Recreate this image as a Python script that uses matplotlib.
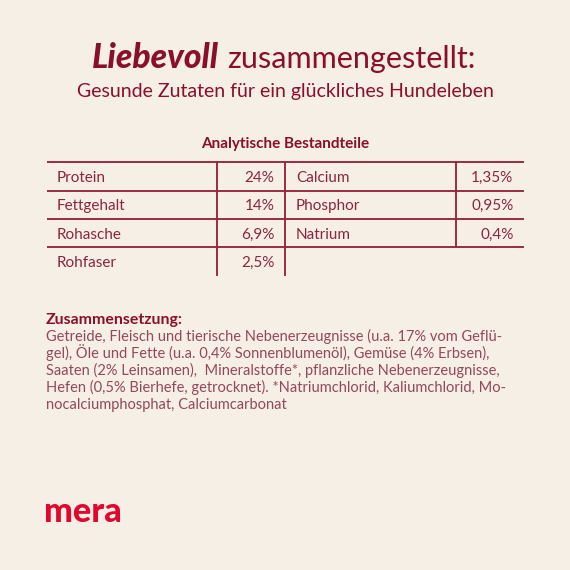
import matplotlib
matplotlib.use("Agg")
import matplotlib.pyplot as plt

# ── Content ───────────────────────────────────────────────────────────────

title_bold = "Liebevoll"
title_rest = "zusammengestellt:"
subtitle = "Gesunde Zutaten für ein glückliches Hundeleben"
table_title = "Analytische Bestandteile"

left_names = ["Protein", "Fettgehalt", "Rohasche", "Rohfaser"]
left_values = ["24%", "14%", "6,9%", "2,5%"]
right_names = ["Calcium", "Phosphor", "Natrium"]
right_values = ["1,35%", "0,95%", "0,4%"]

body_head = "Zusammensetzung:"
body_lines = [
    "Getreide, Fleisch und tierische Nebenerzeugnisse (u.a. 17% vom Geflü-",
    "gel), Öle und Fette (u.a. 0,4% Sonnenblumenöl), Gemüse (4% Erbsen),",
    "Saaten (2% Leinsamen),  Mineralstoffe*, pflanzliche Nebenerzeugnisse,",
    "Hefen (0,5% Bierhefe, getrocknet). *Natriumchlorid, Kaliumchlorid, Mo-",
    "nocalciumphosphat, Calciumcarbonat",
]
logo = "mera"

# ── Style ─────────────────────────────────────────────────────────────────

BG = "#f6efe6"
DARK = "#8a0f2d"
TEXT = "#8c2440"
BODY = "#94485c"
LINE = "#93253f"
RED = "#e2062f"

plt.rcParams["font.family"] = ["Lato", "DejaVu Sans"]

fig = plt.figure(figsize=(5.7, 5.7), dpi=100, facecolor=BG)
ax = fig.add_axes([0, 0, 1, 1])
ax.set_xlim(0, 570)
ax.set_ylim(570, 0)
ax.axis("off")

# ── Title ─────────────────────────────────────────────────────────────────

ax.text(91.5, 68, title_bold, fontsize=24.2, fontweight="black", fontstyle="italic",
        color=DARK, va="baseline")
ax.text(227.5, 68, title_rest, fontsize=22.1, color=DARK, va="baseline")
ax.text(285, 97, subtitle, fontsize=14, color=DARK, ha="center", va="baseline")
ax.text(285, 148, table_title, fontsize=11, fontweight="bold", color=DARK,
        ha="center", va="baseline")

# ── Table ─────────────────────────────────────────────────────────────────

row_h = 28.3
top = 162.3
left, right = 46.5, 523.5
col1, col2, col3 = 217.3, 285, 456

for i in range(len(right_names) + 1):
    y = top + i * row_h
    ax.plot([left, right], [y, y], color=LINE, lw=1.35, solid_capstyle="butt")

bottom = top + len(left_names) * row_h
ax.plot([col1, col1], [top, bottom], color=LINE, lw=1.35, solid_capstyle="butt")
ax.plot([col2, col2], [top, bottom], color=LINE, lw=1.35, solid_capstyle="butt")
ax.plot([col3, col3], [top, top + len(right_names) * row_h], color=LINE, lw=1.35,
        solid_capstyle="butt")

for i, (name, val) in enumerate(zip(left_names, left_values)):
    y = top + i * row_h + 19.7
    ax.text(57, y, name, fontsize=11, color=TEXT, va="baseline")
    ax.text(274.5, y, val, fontsize=11, color=TEXT, ha="right", va="baseline")

for i, (name, val) in enumerate(zip(right_names, right_values)):
    y = top + i * row_h + 19.7
    ax.text(296, y, name, fontsize=11, color=TEXT, va="baseline")
    ax.text(513.5, y, val, fontsize=11, color=TEXT, ha="right", va="baseline")

# ── Body text ─────────────────────────────────────────────────────────────

ax.text(46, 324, body_head, fontsize=11.4, fontweight="bold", color=DARK, va="baseline")
for i, line in enumerate(body_lines):
    ax.text(46.5, 341 + i * 17, line, fontsize=10.5, color=BODY, va="baseline")

# ── Logo ──────────────────────────────────────────────────────────────────

ax.text(44.5, 522, logo, fontsize=24.6, fontweight="black", color=RED, va="baseline")

fig.savefig("out.png", dpi=100, facecolor=BG)
